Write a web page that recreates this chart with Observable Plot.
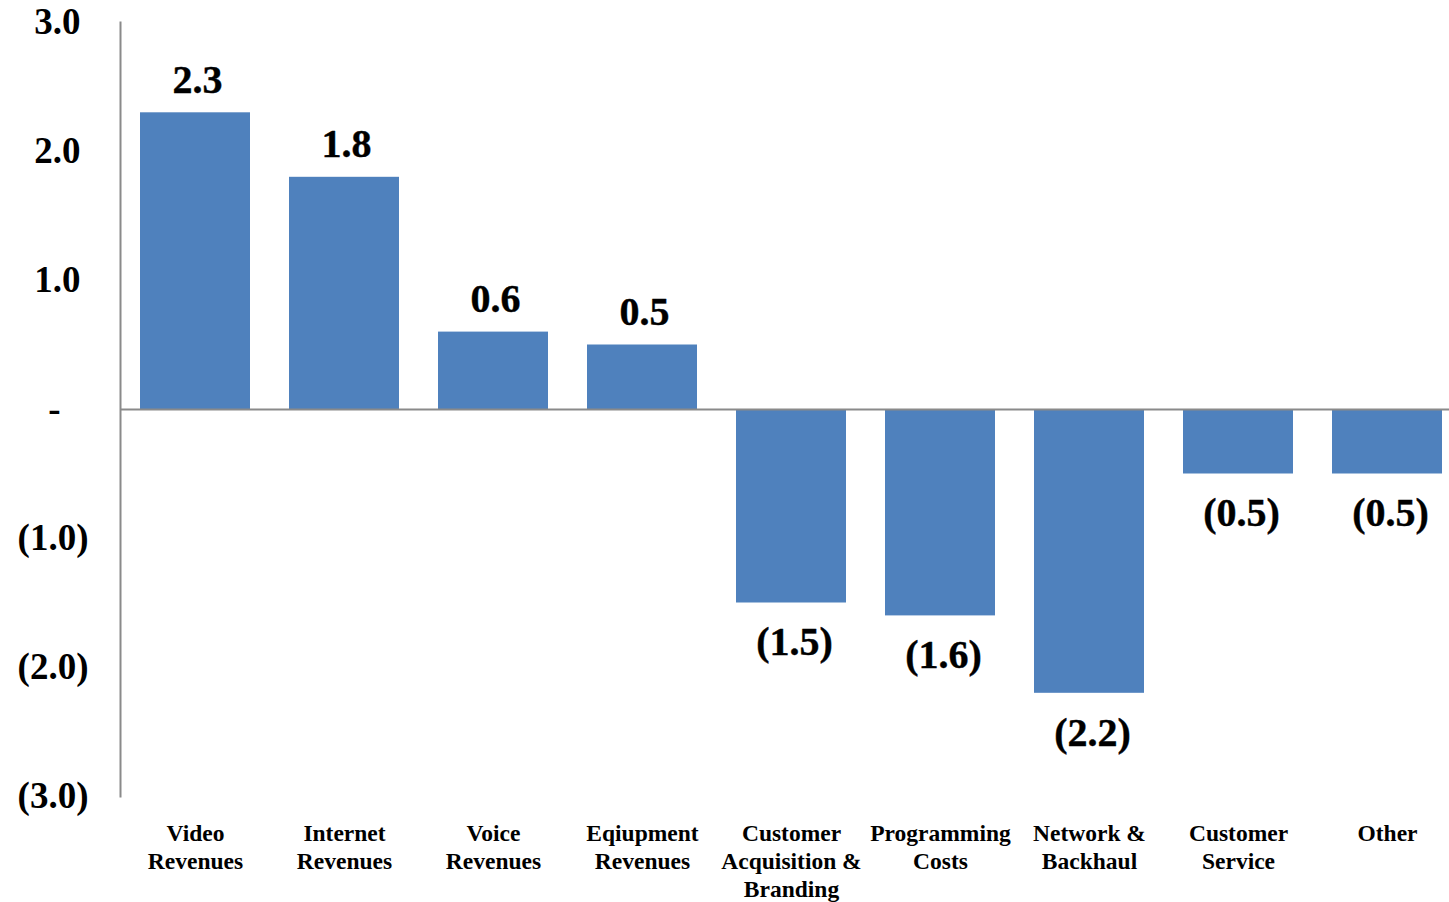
<!DOCTYPE html>
<html>
<head>
<meta charset="utf-8">
<script src="https://cdn.jsdelivr.net/npm/d3@7"></script>
<script src="https://cdn.jsdelivr.net/npm/@observablehq/plot@0.6"></script>
<style>
  html, body { margin: 0; padding: 0; background: #fff; }
  #chart svg { display: block; }
</style>
</head>
<body>
<div id="chart"></div>
<script>
const categories = [
  "Video\nRevenues",
  "Internet\nRevenues",
  "Voice\nRevenues",
  "Eqiupment\nRevenues",
  "Customer\nAcquisition &\nBranding",
  "Programming\nCosts",
  "Network &\nBackhaul",
  "Customer\nService",
  "Other"
];
const values = [2.3, 1.8, 0.6, 0.5, -1.5, -1.6, -2.2, -0.5, -0.5];
const posTicks = [1, 2, 3];
const zeroTick = [0];
const negTicks = [-1, -2, -3];

const data = categories.map((c, i) => ({category: c, value: values[i]}));
const fmt = v => v < 0 ? `(${Math.abs(v).toFixed(1)})` : v.toFixed(1);
const font = "'Liberation Serif', 'Times New Roman', serif";
const blue = "#4F81BD";
const bold = {fontWeight: "bold", fill: "#000", stroke: "#000", strokeWidth: 0.4};

const chart = Plot.plot({
  width: 1449,
  height: 902,
  marginLeft: 120,
  marginRight: 0,
  marginTop: 22,
  marginBottom: 106,
  style: {fontFamily: font, fontWeight: "bold", color: "#000", background: "#fff"},
  x: {domain: categories, range: [121, 1462], paddingInner: 0.26, paddingOuter: 0.13, axis: null},
  y: {domain: [-3, 3], axis: null},
  marks: [
    Plot.barY(data, {x: "category", y: "value", fill: blue}),
    Plot.ruleY([0], {stroke: "#8a8a8a", strokeWidth: 2}),
    Plot.frame({anchor: "left", stroke: "#8a8a8a", strokeWidth: 2}),
    Plot.text(data.filter(d => d.value >= 0), {
      x: "category", y: "value", text: d => fmt(d.value),
      lineAnchor: "bottom", dy: -20, dx: 2, fontSize: 40, ...bold
    }),
    Plot.text(data.filter(d => d.value < 0), {
      x: "category", y: "value", text: d => fmt(d.value),
      lineAnchor: "top", dy: 24, dx: 3, fontSize: 40, ...bold
    }),
    Plot.axisY(posTicks, {label: null, tickSize: 0, tickPadding: 40, fontSize: 37, tickFormat: fmt, ...bold}),
    Plot.axisY(zeroTick, {label: null, tickSize: 0, tickPadding: 60, fontSize: 37, tickFormat: () => "-", ...bold}),
    Plot.axisY(negTicks, {label: null, tickSize: 0, tickPadding: 32, fontSize: 37, tickFormat: fmt, ...bold}),
    Plot.axisX({label: null, tickSize: 0, tickPadding: 25, fontSize: 23.5, lineHeight: 1.19, fontWeight: "bold", fill: "#000", stroke: "#000", strokeWidth: 0.2})
  ]
});
document.getElementById("chart").appendChild(chart);
</script>
</body>
</html>
